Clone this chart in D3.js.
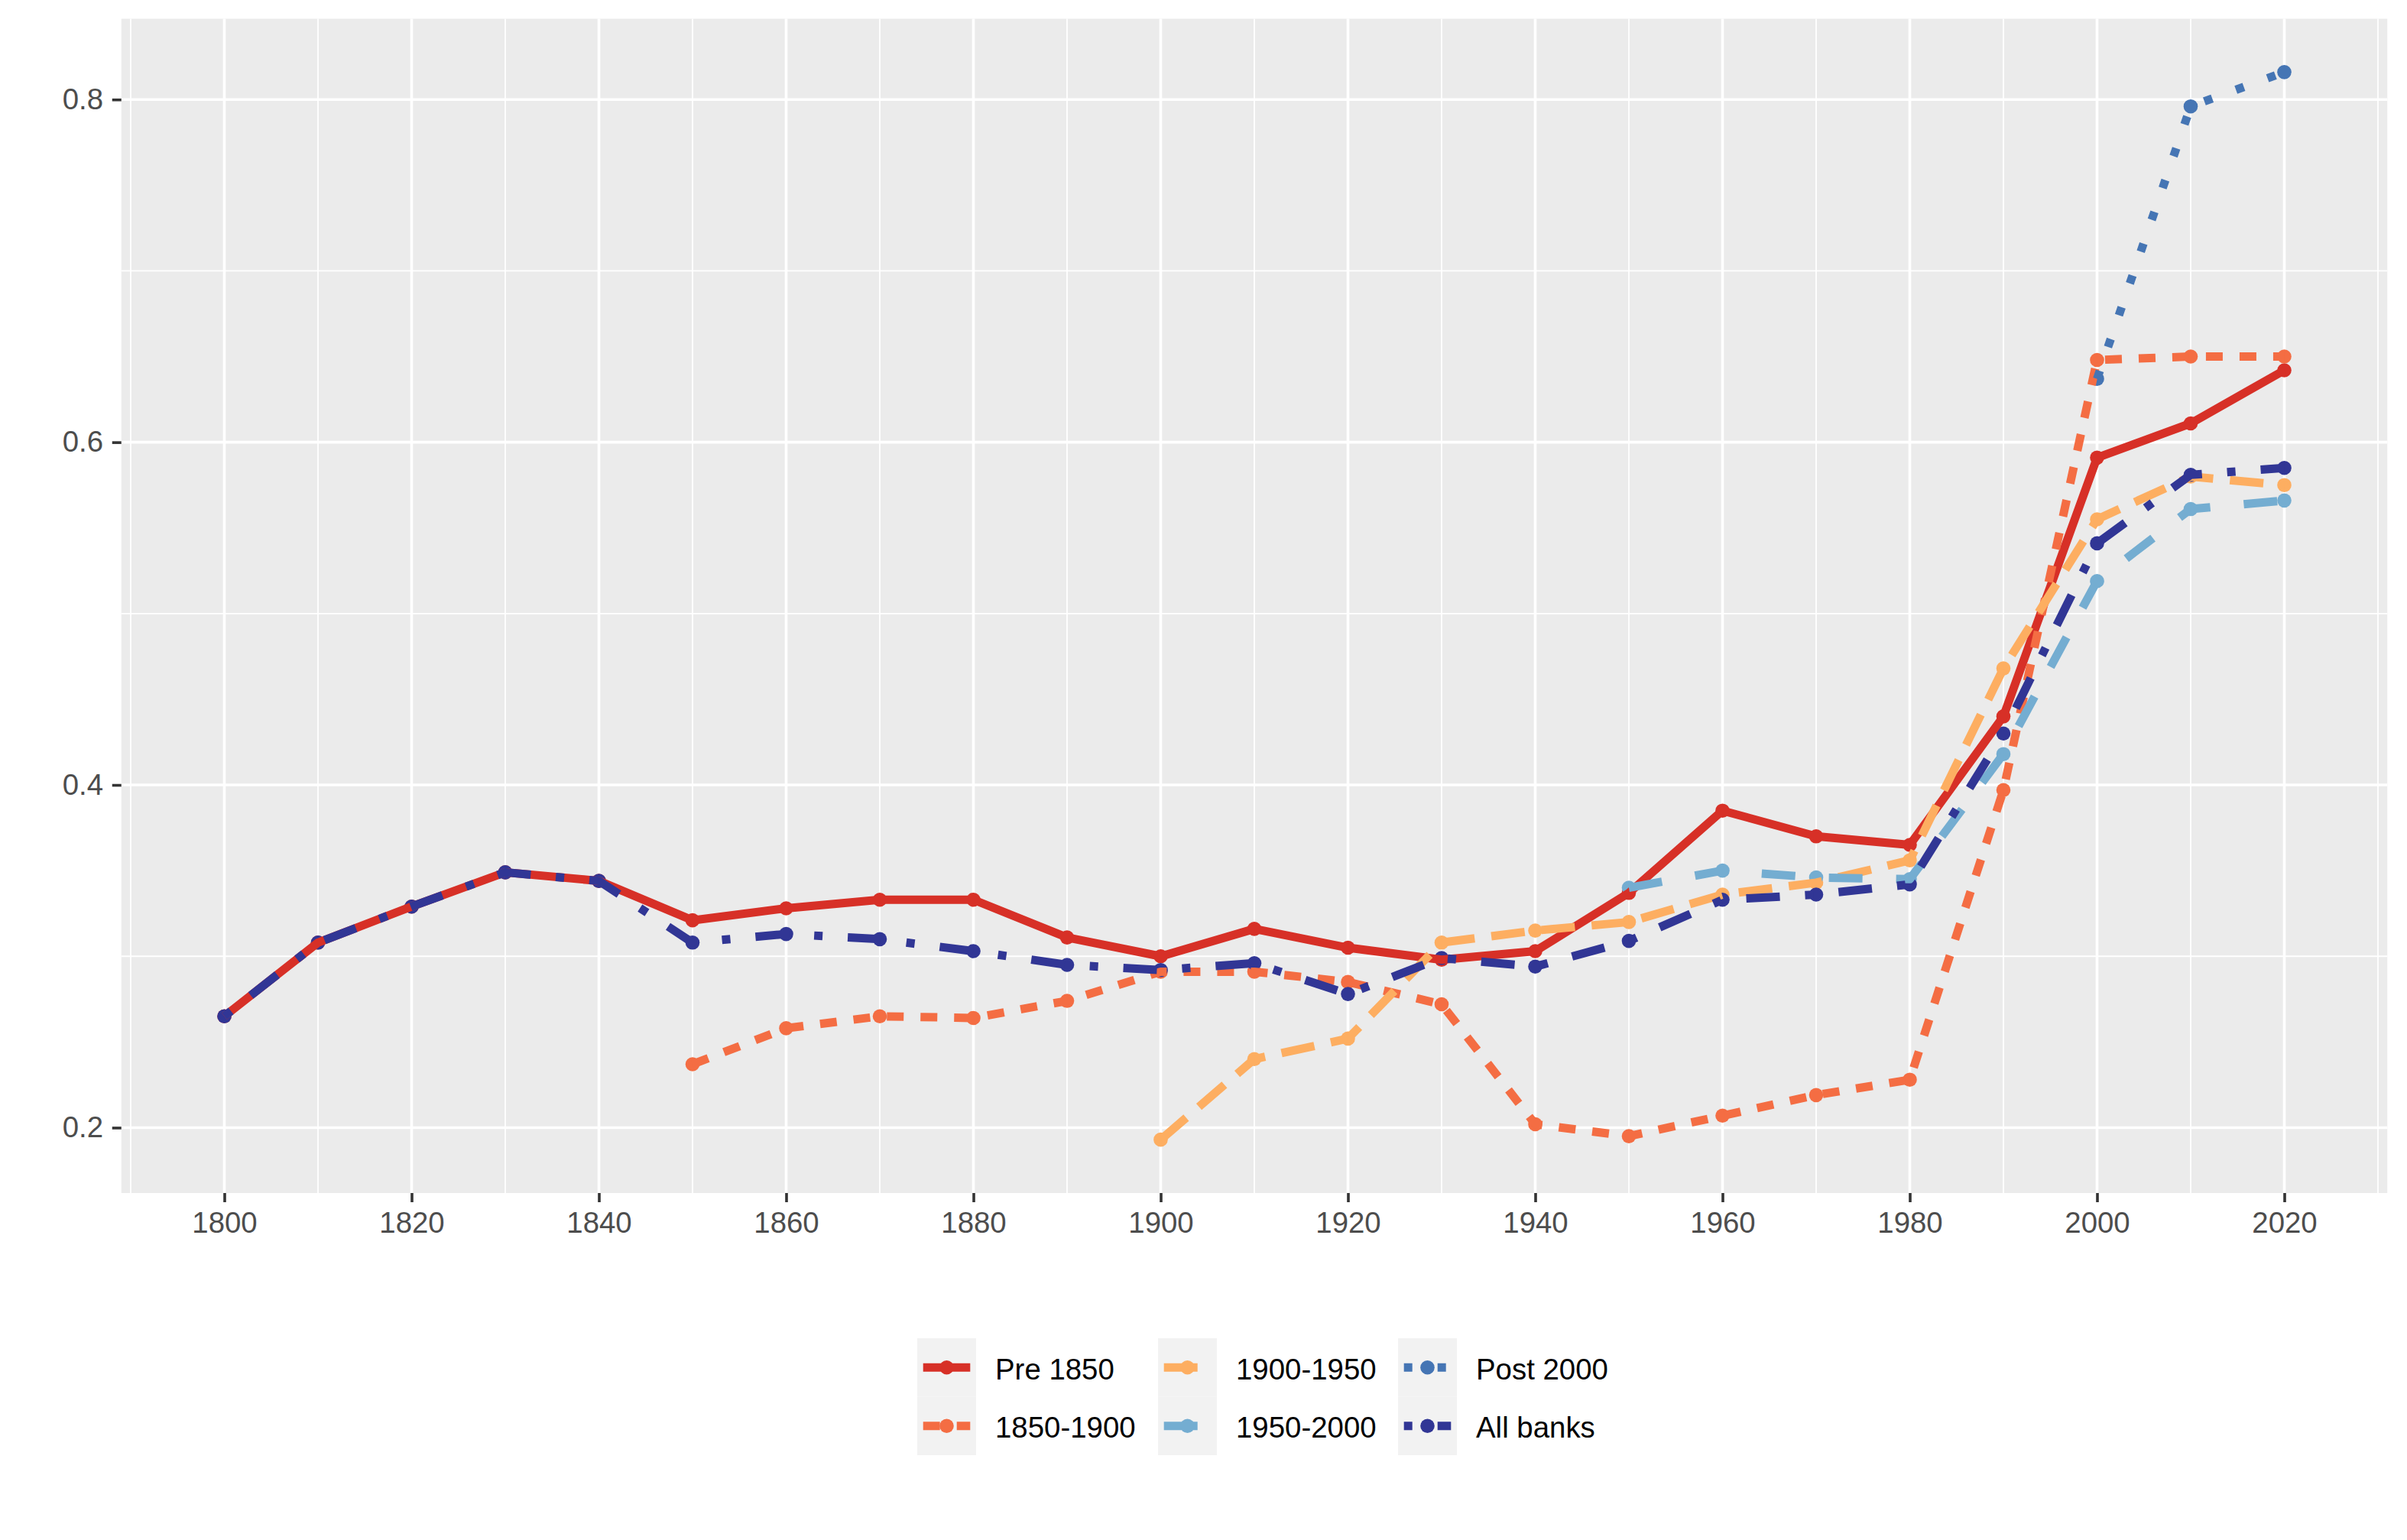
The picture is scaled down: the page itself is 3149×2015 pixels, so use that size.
<!DOCTYPE html>
<html>
<head>
<meta charset="utf-8">
<script src="https://cdn.jsdelivr.net/npm/d3@7"></script>
<style>
  html, body { margin: 0; padding: 0; background: #ffffff; }
  svg { display: block; }
</style>
</head>
<body>
<svg id="chart" width="3149" height="2015"></svg>
<script>
// ---------------- DATA ----------------
const seriesNames = ["Pre 1850", "1850-1900", "1900-1950", "1950-2000", "Post 2000", "All banks"];

const yearsPre1850 = [1800,1810,1820,1830,1840,1850,1860,1870,1880,1890,1900,1910,1920,1930,1940,1950,1960,1970,1980,1990,2000,2010,2020];
const valuesPre1850 = [0.265,0.308,0.329,0.349,0.344,0.321,0.328,0.333,0.333,0.311,0.300,0.316,0.305,0.298,0.303,0.337,0.385,0.370,0.365,0.440,0.591,0.611,0.642];

const years1850_1900 = [1850,1860,1870,1880,1890,1900,1910,1920,1930,1940,1950,1960,1970,1980,1990,2000,2010,2020];
const values1850_1900 = [0.237,0.258,0.265,0.264,0.274,0.291,0.291,0.285,0.272,0.202,0.195,0.207,0.219,0.228,0.397,0.648,0.650,0.650];

const years1900_1950 = [1900,1910,1920,1930,1940,1950,1960,1970,1980,1990,2000,2010,2020];
const values1900_1950 = [0.193,0.240,0.252,0.308,0.315,0.320,0.336,0.343,0.356,0.468,0.555,0.580,0.575];

const years1950_2000 = [1950,1960,1970,1980,1990,2000,2010,2020];
const values1950_2000 = [0.340,0.350,0.346,0.345,0.418,0.519,0.561,0.566];

const yearsPost2000 = [2000,2010,2020];
const valuesPost2000 = [0.637,0.796,0.816];

const yearsAllBanks = [1800,1810,1820,1830,1840,1850,1860,1870,1880,1890,1900,1910,1920,1930,1940,1950,1960,1970,1980,1990,2000,2010,2020];
const valuesAllBanks = [0.265,0.308,0.329,0.349,0.344,0.308,0.313,0.310,0.303,0.295,0.292,0.296,0.278,0.299,0.294,0.309,0.333,0.336,0.342,0.430,0.541,0.581,0.585];

const xTickValues = [1800,1820,1840,1860,1880,1900,1920,1940,1960,1980,2000,2020];
const xMinorValues = [1790,1810,1830,1850,1870,1890,1910,1930,1950,1970,1990,2010,2030];
const yTickValues = [0.2,0.4,0.6,0.8];
const yMinorValues = [0.3,0.5,0.7];

// ---------------- STYLE ----------------
const colors = ["#D73027", "#F46D43", "#FDAE61", "#74ADD1", "#4575B4", "#313695"];
const LW = 11;              // line width px (dash unit)
const dashes = ["", "22", "42", "44", "13", "1343"]; // ggplot default linetype palette
function dashArray(code) {
  if (!code) return null;
  return code.split("").map(c => (+c) * LW).join(",");
}
const PT_R = 9.3;
const FONT = "'Liberation Sans', Arial, Helvetica, sans-serif";
const FS = 38.4;

const allSeries = [
  {name: seriesNames[0], years: yearsPre1850, values: valuesPre1850},
  {name: seriesNames[1], years: years1850_1900, values: values1850_1900},
  {name: seriesNames[2], years: years1900_1950, values: values1900_1950},
  {name: seriesNames[3], years: years1950_2000, values: values1950_2000},
  {name: seriesNames[4], years: yearsPost2000, values: valuesPost2000},
  {name: seriesNames[5], years: yearsAllBanks, values: valuesAllBanks}
].map((s, i) => ({...s, color: colors[i], dash: dashArray(dashes[i]),
   points: s.years.map((y, j) => ({year: y, value: s.values[j]}))}));

// ---------------- LAYOUT ----------------
const panel = {left: 158.75, right: 3123.25, top: 24.5, bottom: 1561};

const allYears = allSeries.flatMap(s => s.years);
const allVals = allSeries.flatMap(s => s.values);
const xExt = d3.extent(allYears), yExt = d3.extent(allVals);
const xPad = (xExt[1] - xExt[0]) * 0.05, yPad = (yExt[1] - yExt[0]) * 0.05;

const x = d3.scaleLinear().domain([xExt[0] - xPad, xExt[1] + xPad]).range([panel.left, panel.right]);
const y = d3.scaleLinear().domain([yExt[0] - yPad, yExt[1] + yPad]).range([panel.bottom, panel.top]);

const svg = d3.select("#chart");

// panel background
svg.append("rect")
  .attr("x", panel.left).attr("y", panel.top)
  .attr("width", panel.right - panel.left).attr("height", panel.bottom - panel.top)
  .attr("fill", "#EBEBEB");

const grid = svg.append("g");
// minor grid
grid.selectAll("line.ymin").data(yMinorValues).join("line")
  .attr("x1", panel.left).attr("x2", panel.right)
  .attr("y1", d => y(d)).attr("y2", d => y(d))
  .attr("stroke", "#fff").attr("stroke-width", 1.8);
grid.selectAll("line.xmin").data(xMinorValues).join("line")
  .attr("y1", panel.top).attr("y2", panel.bottom)
  .attr("x1", d => x(d)).attr("x2", d => x(d))
  .attr("stroke", "#fff").attr("stroke-width", 1.8);
// major grid
grid.selectAll("line.ymaj").data(yTickValues).join("line")
  .attr("x1", panel.left).attr("x2", panel.right)
  .attr("y1", d => y(d)).attr("y2", d => y(d))
  .attr("stroke", "#fff").attr("stroke-width", 3.6);
grid.selectAll("line.xmaj").data(xTickValues).join("line")
  .attr("y1", panel.top).attr("y2", panel.bottom)
  .attr("x1", d => x(d)).attr("x2", d => x(d))
  .attr("stroke", "#fff").attr("stroke-width", 3.6);

// axes
const xAxis = d3.axisBottom(x).tickValues(xTickValues).tickFormat(d3.format("d"))
  .tickSize(12).tickPadding(12.5);
const gx = svg.append("g").attr("transform", `translate(0,${panel.bottom})`).call(xAxis);
const yAxis = d3.axisLeft(y).tickValues(yTickValues).tickFormat(d3.format(".1f"))
  .tickSize(12).tickPadding(11.75);
const gy = svg.append("g").attr("transform", `translate(${panel.left},0)`).call(yAxis);
[gx, gy].forEach(g => {
  g.select(".domain").remove();
  g.selectAll(".tick line").attr("stroke", "#333333").attr("stroke-width", 3.6);
  g.selectAll(".tick text").attr("fill", "#4D4D4D")
    .style("font-family", FONT).style("font-size", FS + "px");
});

// points first, then lines (matches the layering of the reference)
const pts = svg.append("g");
allSeries.forEach(s => {
  pts.append("g").selectAll("circle").data(s.points).join("circle")
    .attr("cx", d => x(d.year)).attr("cy", d => y(d.value))
    .attr("r", PT_R).attr("fill", s.color);
});

const line = d3.line().x(d => x(d.year)).y(d => y(d.value));
const lines = svg.append("g");
allSeries.forEach(s => {
  lines.append("path").datum(s.points)
    .attr("d", line)
    .attr("fill", "none")
    .attr("stroke", s.color)
    .attr("stroke-width", LW)
    .attr("stroke-linecap", "butt")
    .attr("stroke-linejoin", "round")
    .attr("stroke-dasharray", s.dash);
});

// legend (3 columns x 2 rows, filled by column)
const keyW = 77, keyH = 76.5;
const colX = [1200, 1515, 1829];
const legTop = 1751;
const leg = svg.append("g");
allSeries.forEach((s, i) => {
  const col = Math.floor(i / 2), row = i % 2;
  const kx = colX[col], ky = legTop + row * keyH;
  const g = leg.append("g");
  g.append("rect").attr("x", kx).attr("y", ky).attr("width", keyW).attr("height", keyH)
    .attr("fill", "#F2F2F2");
  const cy = ky + keyH / 2;
  g.append("circle").attr("cx", kx + keyW / 2).attr("cy", cy).attr("r", PT_R).attr("fill", s.color);
  g.append("line").attr("x1", kx + keyW * 0.1).attr("x2", kx + keyW * 0.9)
    .attr("y1", cy).attr("y2", cy)
    .attr("stroke", s.color).attr("stroke-width", LW)
    .attr("stroke-linecap", "butt")
    .attr("stroke-dasharray", s.dash);
  g.append("text").attr("x", kx + keyW + 25).attr("y", cy + 2).attr("dy", "0.355em")
    .attr("fill", "#000").style("font-family", FONT).style("font-size", FS + "px")
    .text(s.name);
});
</script>
</body>
</html>
